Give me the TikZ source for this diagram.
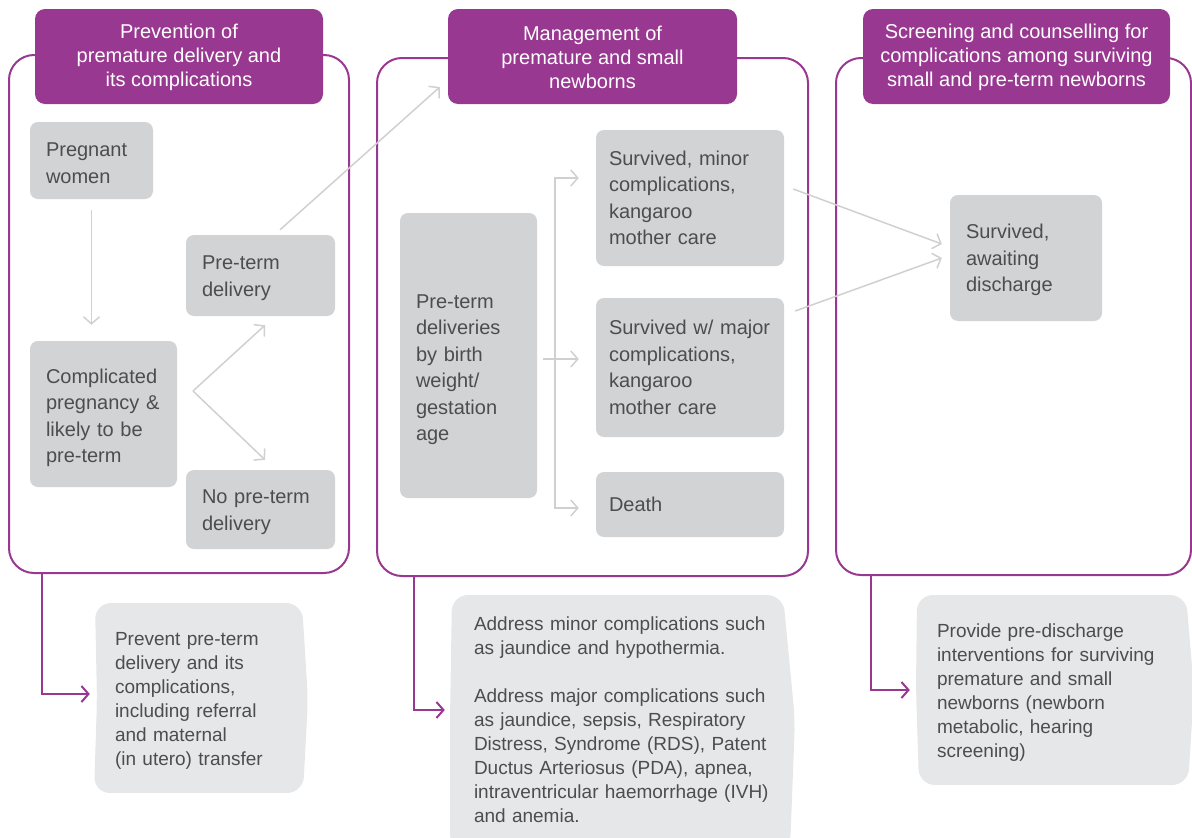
\documentclass[tikz,border=0pt]{standalone}
\usepackage{fontspec}
\setmainfont{Liberation Sans}
\usetikzlibrary{arrows.meta,calc}
\definecolor{purp}{HTML}{993891}
\definecolor{boxgray}{HTML}{D1D3D4}
\definecolor{callgray}{HTML}{E6E7E8}
\definecolor{linegray}{HTML}{D0D0D0}
\definecolor{txt}{HTML}{4D4D4F}
\begin{document}
\begin{tikzpicture}[x=1pt,y=-1pt,
  panel/.style={draw=purp, line width=2pt, rounded corners=25pt, inner sep=0pt},
  head/.style={fill=purp, rounded corners=10pt, text=white, align=center,
    font=\fontsize{20}{24}\selectfont, inner sep=0pt, minimum height=95pt},
  gbox/.style={fill=boxgray, rounded corners=8pt, text=txt, align=left,
    inner xsep=16pt, inner ysep=0pt, font=\fontsize{20}{26.5}\selectfont},
  callout/.style={text=txt, align=left, inner ysep=0pt, font=\fontsize{19}{24}\selectfont},
  callfill/.style={fill=callgray, rounded corners=16pt},
  garrow/.style={draw=linegray, line width=1.5pt, -{Straight Barb[length=7pt,width=16pt]}},
  parrow/.style={draw=purp, line width=2pt, -{Straight Barb[length=7pt,width=16pt]}}
]
\useasboundingbox (0,0) rectangle (1192,838);

% panels
\node[panel, minimum width=340pt, minimum height=518pt] (p1) at (179,314) {};
\node[panel, minimum width=431pt, minimum height=518pt] (p2) at (592.5,317) {};
\node[panel, minimum width=355pt, minimum height=517pt] (p3) at (1013.5,316.5) {};

% headers
\node[head, minimum width=288pt] (h1) at (179,56.5) {\rule{0pt}{17pt}Prevention of\\premature delivery and\\its complications};
\node[head, minimum width=289pt] (h2) at (592.5,56.5) {\rule{0pt}{17pt}Management of\\premature and small\\newborns};
\node[head, minimum width=307pt] (h3) at (1016.5,56.5) {\rule{0pt}{17pt}Screening and counselling for\\complications among surviving\\small and pre-term newborns};

% gray boxes
\node[gbox, text width=91pt, minimum height=77pt] (preg) at (91.5,160.5) {\rule{0pt}{19pt}Pregnant\\women};
\node[gbox, text width=115pt, minimum height=146pt] (comp) at (103.5,414) {\rule{0pt}{22pt}Complicated\\pregnancy \&\\likely to be\\pre-term};
\node[gbox, text width=117pt, minimum height=81pt] (pre) at (260.5,275.5) {\rule{0pt}{19pt}Pre-term\\delivery};
\node[gbox, text width=117pt, minimum height=79pt] (nopre) at (260.5,509.5) {\rule{0pt}{19pt}No pre-term\\delivery};
\node[gbox, text width=105pt, minimum height=285pt] (ptd) at (468.5,355.5) {\rule{0pt}{42pt}Pre-term\\deliveries\\by birth\\weight/\\gestation\\age};
\node[gbox, inner xsep=13pt, text width=162pt, minimum height=136pt] (smin) at (690,198) {\mbox{Survived, minor}\\complications,\\kangaroo\\mother care};
\node[gbox, inner xsep=13pt, text width=162pt, minimum height=139pt] (smaj) at (690,367.5) {\mbox{Survived w/ major}\\complications,\\kangaroo\\mother care};
\node[gbox, inner xsep=13pt, text width=162pt, minimum height=65pt] (death) at (690,504.5) {Death};
\node[gbox, text width=120pt, minimum height=126pt] (await) at (1026,258) {\rule{0pt}{19pt}Survived,\\awaiting\\discharge};

% callout fills
\path[callfill] (95,603) -- (302,603) -- (308,700) -- (303,793) -- (94,793) -- (97,700) -- cycle;
\path[callfill] (452,595) -- (783,595) -- (795,720) -- (790,850) -- (450,850) -- (450,720) -- cycle;
\path[callfill] (917,595) -- (1186,595) -- (1194,690) -- (1188,785) -- (919,785) -- (916,690) -- cycle;

% callout texts
\node[callout, text width=173pt, inner xsep=20pt, minimum height=190pt] (c1) at (201.5,698)
  {\rule{0pt}{19pt}Prevent pre-term\\delivery and its\\complications,\\including referral\\and maternal\\(in utero) transfer};
\node[callout, text width=297pt, inner xsep=24pt, minimum height=250pt] (c2) at (622.5,720)
  {Address minor complications such\\as jaundice and hypothermia.\\[24pt]Address major complications such\\as jaundice, sepsis, Respiratory\\Distress, Syndrome (RDS), Patent\\Ductus Arteriosus (PDA), apnea,\\intraventricular haemorrhage (IVH)\\and anemia.};
\node[callout, text width=233pt, inner xsep=20pt, minimum height=190pt] (c3) at (1053.5,690)
  {\rule{0pt}{19pt}Provide pre-discharge\\interventions for surviving\\premature and small\\newborns (newborn\\metabolic, hearing\\screening)};

% gray connectors
\draw[garrow, shorten <=11pt, shorten >=16pt] (preg.south) -- (preg.south |- comp.north);
\coordinate (fork) at (193,391);
\draw[garrow] (fork) -- ([xshift=4.5pt,yshift=-9pt]pre.south);
\draw[garrow] (fork) -- ([xshift=4.5pt,yshift=10pt]nopre.north);
\draw[garrow] ([xshift=19.5pt,yshift=5pt]pre.north) -- ([xshift=-8pt,yshift=-30.5pt]h2.west);
\coordinate (br) at (555,359);
\draw[garrow, shorten <=6pt, shorten >=17pt] (ptd.east |- br) -- (smaj.west |- br);
\draw[garrow, shorten >=17pt] (br) |- ([yshift=20pt]smin.west);
\draw[garrow, shorten >=17pt] (br) |- ([yshift=-3.5pt]death.west);
\draw[garrow] ([xshift=9pt,yshift=9pt]smin.east) -- ([xshift=-8pt,yshift=14pt]await.west);
\draw[garrow] ([xshift=11pt,yshift=56.5pt]smaj.east) -- ([xshift=-8pt]await.west);

% purple stems
\coordinate (s1) at (42,573);
\coordinate (s2) at (414,576);
\coordinate (s3) at (871,575);
\draw[parrow, shorten >=5pt] (s1) |- ([yshift=4pt]c1.west);
\draw[parrow, shorten >=5pt] (s2) |- ([yshift=10pt]c2.west);
\draw[parrow, shorten >=7pt] (s3) |- (c3.west);
\end{tikzpicture}
\end{document}
